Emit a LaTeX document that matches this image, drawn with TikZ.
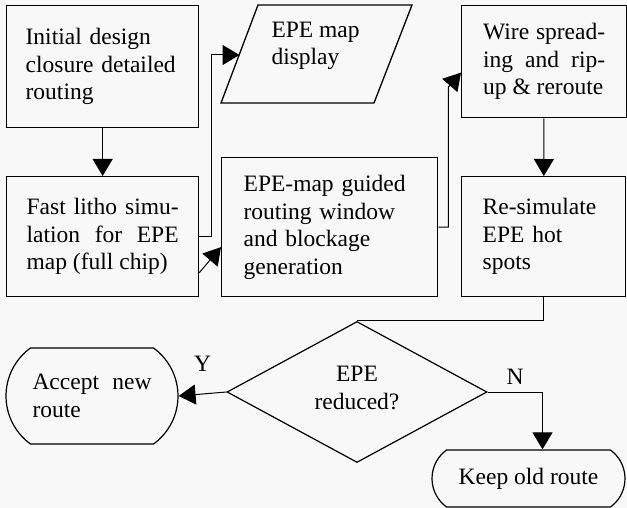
\documentclass[tikz,border=0pt]{standalone}
\usepackage{xcolor}
\usepackage{fontspec}
\setmainfont{Liberation Serif}
\usepackage{tikz}
\usetikzlibrary{arrows.meta, shapes.geometric, shapes.misc, positioning}
\definecolor{paper}{HTML}{F8F8F8}
\hyphenpenalty=10000

\begin{document}
\begin{tikzpicture}[x=1pt, y=-1pt,
    every node/.style={font=\fontsize{23.5}{27.5}\selectfont},
    stepbox/.style={draw, line width=1.3pt, rectangle, anchor=north west, inner ysep=0pt},
    endbox/.style={draw, line width=1.2pt, rounded rectangle, rounded rectangle arc length=108, inner sep=0pt},
    flow/.style={line width=1pt, -{Triangle[length=17pt, width=20pt]}},
    plain/.style={line width=1pt}]
  \fill[paper] (0,0) rectangle (627,508);
  \useasboundingbox (0,0) rectangle (627,508);

  \node[stepbox, text width=154pt, inner xsep=19pt, minimum height=122pt, align=left] (initial) at (6,5)
    {Initial design\\closure detailed\\routing};
  \node[stepbox, text width=152pt, inner xsep=20pt, minimum height=120pt, align=justify] (litho) at (6,176)
    {Fast litho simu-\linebreak lation for EPE\linebreak map (full chip)};
  \node[stepbox, text width=172pt, inner xsep=22pt, minimum height=139pt, align=left] (guided) at (221,157)
    {EPE-map guided\\routing window\\and blockage\\generation};
  \node[stepbox, text width=122pt, inner xsep=21.5pt, minimum height=112pt, align=justify] (wire) at (461,5)
    {Wire spread-\linebreak ing and rip-\linebreak up \& reroute};
  \node[stepbox, text width=122pt, inner xsep=21pt, minimum height=120pt, align=left] (resim) at (461,176)
    {Re-simulate\\EPE hot\\spots};

  % display (parallelogram)
  \draw[line width=1.3pt] (221,103) -- (258,5) -- (412,5) -- (374,103) -- cycle;
  \node[anchor=west, align=left] (epemap) at (268,46) {EPE map\\display};
  \coordinate (epemap-w) at (239.5,55);

  \node[draw, line width=1.2pt, diamond, aspect=1.8, minimum width=260pt, minimum height=141pt,
        inner sep=0pt, text depth=8pt, align=center] (reduced) at (357,392) {EPE\\reduced?};
  \node[endbox, minimum width=172pt, minimum height=96pt, text width=119pt, align=justify] (accept) at (92,396)
    {Accept new\linebreak route};
  \node[endbox, minimum width=193pt, minimum height=57pt] (keep) at (528.5,478.5) {Keep old route};

  \draw[flow] (initial) -- (litho);
  \draw[flow] (litho.east) -- ++(12,0) |- (epemap-w);
  \draw[flow] ([yshift=-36pt]litho.east) -- ([yshift=-20pt]guided.west);
  \draw[flow] (guided.east) -- ++(10,0) -- ++(0,-140) -- ([yshift=-11pt]wire.west);
  \draw[flow] (wire) -- (resim);
  \draw[plain] (resim.south) |- (reduced.north);
  \draw[flow] (reduced.west) -- (accept.east) node[pos=0.5, above=19pt] (yes) {Y};
  \draw[flow] (reduced.east) -| ([xshift=14pt]keep.north) node[pos=0.25, above=4pt] (no) {N};
\end{tikzpicture}
\end{document}
